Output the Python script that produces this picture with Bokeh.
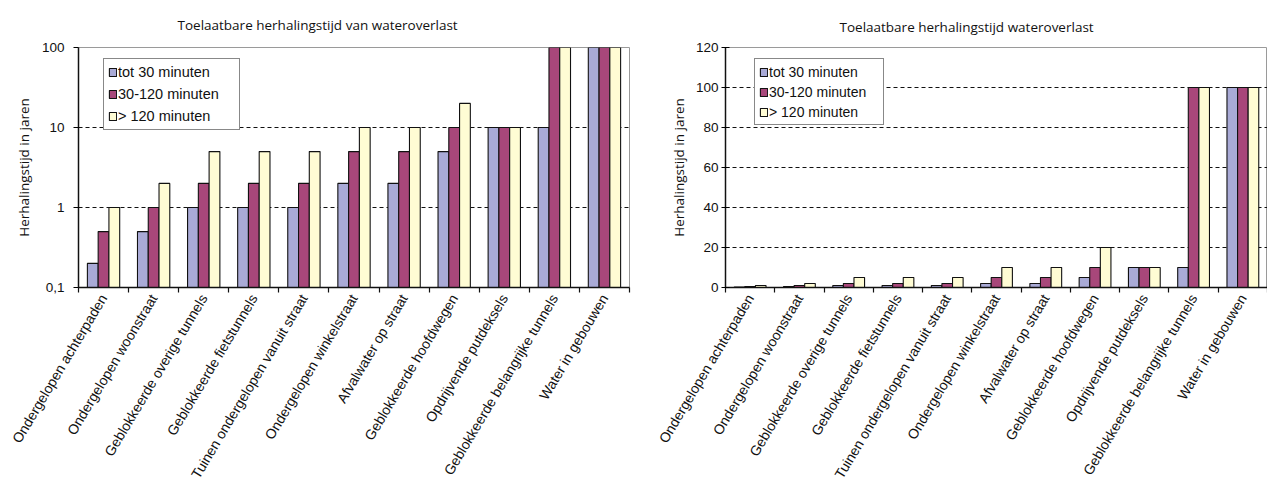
from bokeh.plotting import figure
from bokeh.layouts import row
from bokeh.models import (ColumnDataSource, Range1d, FixedTicker, Legend, LegendItem)
from bokeh.embed import file_html
from bokeh.resources import INLINE

categories = ["Ondergelopen achterpaden", "Ondergelopen woonstraat", "Geblokkeerde overige tunnels",
              "Geblokkeerde fietstunnels", "Tuinen ondergelopen vanuit straat", "Ondergelopen winkelstraat",
              "Afvalwater op straat", "Geblokkeerde hoofdwegen", "Opdrijvende putdeksels",
              "Geblokkeerde belangrijke tunnels", "Water in gebouwen"]
series_names = ["tot 30 minuten", "30-120 minuten", "> 120 minuten"]
tot_30 = [0.2, 0.5, 1, 1, 1, 2, 2, 5, 10, 10, 100]
min_30_120 = [0.5, 1, 2, 2, 2, 5, 5, 10, 10, 100, 100]
over_120 = [1, 2, 5, 5, 5, 10, 10, 20, 10, 100, 100]
colors = ["#A9AAD6", "#A8477A", "#FFFCD4"]
left_ticks = [0.1, 1, 10, 100]
right_ticks = [0, 20, 40, 60, 80, 100, 120]

TITLE_FONT = "Open Sans"
TICK_FONT = "Liberation Sans"

n = len(categories)
centers = [i + 0.5 for i in range(n)]
bounds = list(range(n + 1))
label_map = {c: name for c, name in zip(centers, categories)}
bw = 0.215
offsets = [-bw, 0.0, bw]
series = [tot_30, min_30_120, over_120]

HEIGHT = 495
MB_TOP = 47
MB_BOTTOM = 208


def make_fig(title, log, width, mbl, mbr, leg_xy, title_standoff, title_offset,
             leg_font, leg_lh, leg_sp, leg_w):
    common = dict(width=width, height=HEIGHT, x_range=Range1d(0, n), output_backend="svg",
                  toolbar_location=None, min_border_left=mbl, min_border_right=mbr,
                  min_border_top=MB_TOP, min_border_bottom=MB_BOTTOM)
    if log:
        p = figure(y_axis_type="log", y_range=Range1d(0.1, 100), **common)
    else:
        p = figure(y_range=Range1d(0, 120), **common)
    p.title.text = title
    p.title.align = "left"
    p.title.offset = title_offset
    p.title.text_font = TITLE_FONT
    p.title.text_font_size = "13.5px"
    p.title.text_font_style = "normal"
    p.title.text_color = "#111111"
    p.title.standoff = title_standoff
    p.outline_line_color = "#9a9a9a"
    p.outline_line_width = 1
    p.background_fill_color = "white"
    p.border_fill_color = "white"

    base = 0.1 if log else 0
    items = []
    for k, vals in enumerate(series):
        src = ColumnDataSource(dict(x=[c + offsets[k] for c in centers], top=vals,
                                    bottom=[base] * n))
        r = p.vbar(x="x", top="top", bottom="bottom", width=bw, source=src,
                   fill_color=colors[k], line_color="#111111", line_width=1.1)
        items.append(LegendItem(label=series_names[k], renderers=[r]))

    leg = Legend(items=items, location=leg_xy)
    leg.border_line_color = "#111111"
    leg.border_line_width = 1.2
    leg.background_fill_alpha = 1
    leg.label_text_font = TICK_FONT
    leg.label_text_font_size = leg_font
    leg.label_text_color = "#111111"
    leg.glyph_width = 9
    leg.glyph_height = 10
    leg.label_standoff = 1
    leg.label_height = leg_lh
    leg.label_width = leg_w
    leg.spacing = leg_sp
    leg.padding = 4
    leg.margin = 0
    p.add_layout(leg, "center")

    # x axis: labels at category centres, tick marks at category boundaries
    xa = p.xaxis[0]
    xa.ticker = FixedTicker(ticks=centers, minor_ticks=bounds)
    xa.major_label_overrides = label_map
    xa.major_tick_line_color = None
    xa.minor_tick_line_color = "#111111"
    xa.minor_tick_out = 5
    xa.minor_tick_in = 0
    xa.minor_tick_line_width = 1.2
    xa.axis_line_color = "#111111"
    xa.axis_line_width = 1.5
    xa.major_label_orientation = 1.03
    xa.major_label_text_font = TICK_FONT
    xa.major_label_text_font_size = "14px"
    xa.major_label_text_color = "#111111"
    xa.major_label_standoff = 2
    p.xgrid.visible = False

    ya = p.yaxis[0]
    ya.axis_line_color = "#111111"
    ya.axis_line_width = 1.5
    ya.major_tick_line_width = 1.2
    ya.minor_tick_line_color = None
    ya.major_label_text_font = TICK_FONT
    ya.major_label_text_font_size = "13.5px"
    ya.major_label_text_color = "#111111"
    ya.axis_label = "Herhalingstijd in jaren"
    ya.axis_label_text_font = TITLE_FONT
    ya.axis_label_text_font_size = "13.5px"
    ya.axis_label_text_font_style = "normal"
    ya.axis_label_text_color = "#111111"
    if log:
        ya.ticker = FixedTicker(ticks=left_ticks)
        ya.major_label_overrides = {0.1: "0,1", 1: "1", 10: "10", 100: "100"}
        ya.major_tick_out = 5
        ya.major_tick_in = 0
        ya.major_label_standoff = 9
        ya.axis_label_standoff = 6
        p.ygrid.ticker = FixedTicker(ticks=left_ticks[1:-1])
    else:
        ya.ticker = FixedTicker(ticks=right_ticks)
        ya.major_tick_out = 4
        ya.major_tick_in = 4
        ya.major_label_standoff = 3
        ya.axis_label_standoff = 5
        p.ygrid.ticker = FixedTicker(ticks=right_ticks[1:-1])
    p.ygrid.grid_line_color = "#111111"
    p.ygrid.grid_line_dash = "4 3"
    p.ygrid.grid_line_width = 1.2
    return p


p1 = make_fig("Toelaatbare herhalingstijd van wateroverlast", True, 640, 78, 11,
              (25, 157), 27, 99, "14.5px", 18, 4, 117)
p2 = make_fig("Toelaatbare herhalingstijd wateroverlast", False, 627, 85, 0,
              (29, 162), 24, 114, "14px", 17, 3, 110)

layout = row(p1, p2)
open("out.html", "w").write(file_html(layout, INLINE))
